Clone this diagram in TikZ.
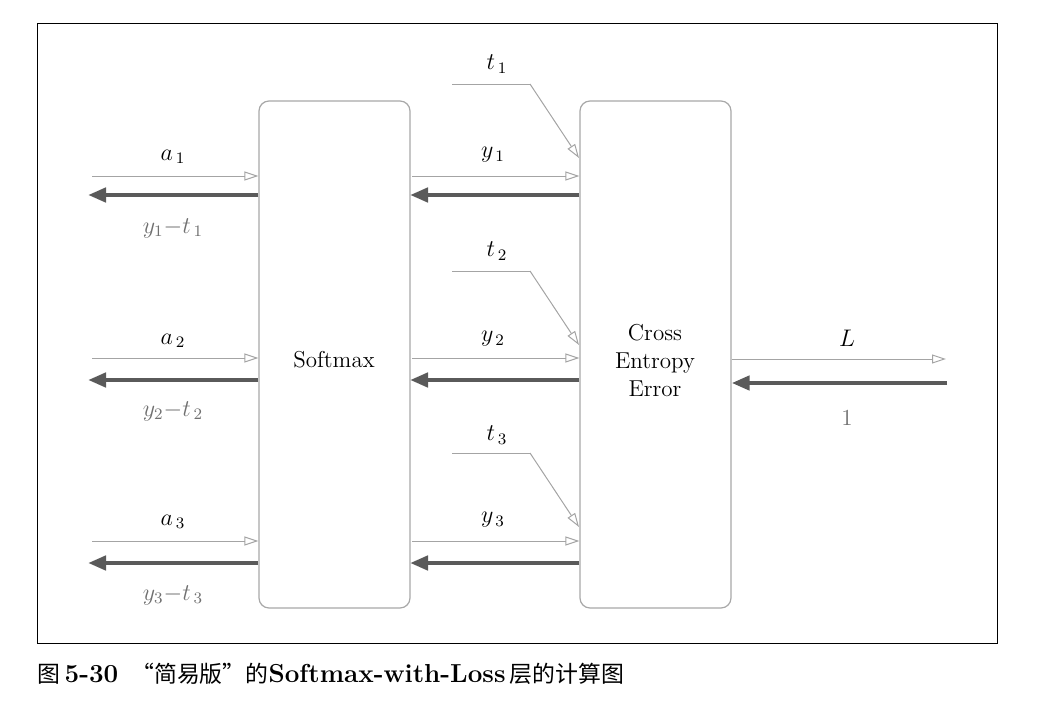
\documentclass[tikz,border=0pt]{standalone}
\usepackage{fontspec}
\newfontfamily\cjk[Scale=0.88]{Noto Sans CJK SC}
\usetikzlibrary{arrows.meta}
\definecolor{thinc}{HTML}{A4A4A4}
\definecolor{thickc}{HTML}{5A5A5A}
\definecolor{boxc}{HTML}{A8A8A8}
\definecolor{lblgray}{HTML}{707070}
\tikzset{
  box/.style={draw=boxc, line width=0.6pt, rounded corners=5pt, minimum width=75.5pt, minimum height=253.5pt, inner sep=0pt},
  fwd/.style={draw=thinc, line width=0.5pt, -{Triangle[open, length=7pt, width=4.5pt]}},
  bwd/.style={draw=thickc, line width=2.2pt, -{Triangle[length=9pt, width=7pt]}},
  tline/.style={draw=thinc, line width=0.5pt},
  lbl/.style={font=\fontsize{11.5}{14}\selectfont},
  glbl/.style={lbl, text=lblgray},
}
\begin{document}
\begin{tikzpicture}[x=0.5pt,y=-0.5pt]
\useasboundingbox (0,0) rectangle (1039,712);
\draw[line width=0.5pt] (37,23) rectangle (997,643);
\node[box] (sm) at (334.5,354.5) {};
\node[box] (ce) at (655.5,354.5) {};
\node[lbl] (smt) at (334,360) {Softmax};
\node[lbl, align=center, font=\fontsize{11.5}{14}\selectfont] (cet) at (655,361) {Cross\\Entropy\\Error};
% left inputs
\foreach \i/\yt/\yk/\ya/\yb in {1/176/195/157/228, 2/358/380/341/411, 3/541/563/522/595}{
  \coordinate (ain\i) at (92,\yt);
  \coordinate (aout\i) at (88,\yk);
  \draw[fwd] (ain\i) -- (ain\i -| sm.west);
  \draw[bwd] (aout\i -| sm.west) -- (aout\i);
  \node[lbl] (al\i) at (173,\ya) {$a_{\,\i}$};
  \node[glbl] (gl\i) at (173,\yb) {$y_{\i}{-}t_{\,\i}$};
  % middle
  \coordinate (ym\i) at (412,\yt);
  \coordinate (yk\i) at (410,\yk);
  \draw[fwd] (ym\i) -- (ym\i -| ce.west);
  \draw[bwd] (yk\i -| ce.west) -- (yk\i);
  \node[lbl] (yl\i) at (493,\ya-2) {$y_{\,\i}$};
}
% t inputs
\foreach \i/\yh/\ye/\yl in {1/84/158/64, 2/271/345/251, 3/453/527/435}{
  \coordinate (ts\i) at (452,\yh);
  \coordinate (tb\i) at (530,\yh);
  \coordinate (te\i) at (579,\ye);
  \draw[tline] (ts\i) -- (tb\i);
  \draw[fwd] (tb\i) -- (te\i);
  \node[lbl] (tl\i) at (497,\yl) {$t_{\,\i}$};
}
% right output
\coordinate (Lend) at (946,359);
\coordinate (Lstart) at (947,383);
\draw[fwd] (ce.east |- Lend) -- (Lend);
\draw[bwd] (Lstart) -- (Lstart -| ce.east);
\node[lbl] (Ll) at (847,338) {$L$};
\node[glbl] (one) at (847,418) {1};
% caption
\node[anchor=base west, inner sep=0pt, font=\fontsize{13}{15}\selectfont] (cap) at (37,682)
  {{\cjk 图}\,{\bfseries 5-30}\enspace{\cjk “简易版”的}{\bfseries Softmax-with-Loss}\,{\cjk 层的计算图}};
\end{tikzpicture}
\end{document}
